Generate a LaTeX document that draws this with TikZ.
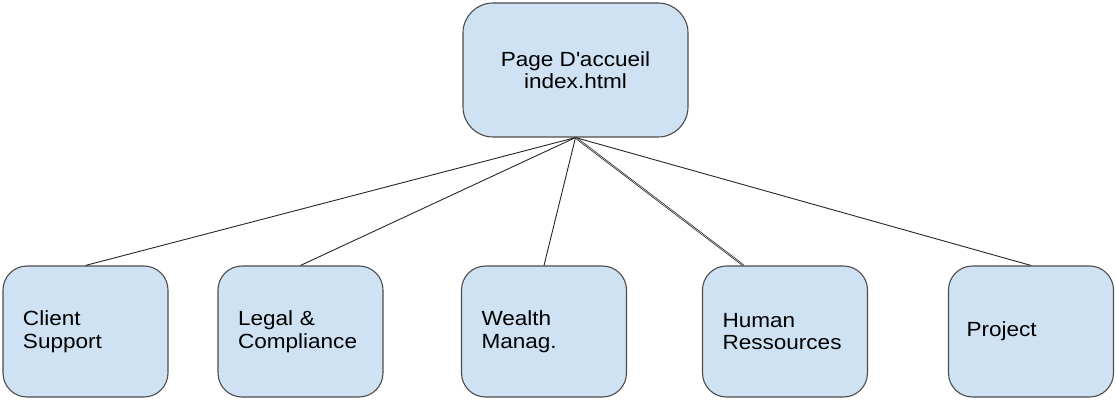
\documentclass[tikz,border=0pt]{standalone}
\usepackage{fontspec}
\setmainfont{Liberation Sans}[FakeStretch=1.1]
\usetikzlibrary{calc}
\begin{document}
\begin{tikzpicture}[x=1pt,y=-1pt,
  box/.style={draw=black!70, line width=1.1pt, fill=boxblue, rounded corners=24pt,
    font=\fontsize{20.5}{22.5}\selectfont, inner sep=0pt},
  leaf/.style={box, minimum width=165pt, minimum height=131pt, inner xsep=20pt,
    text width=125pt, align=left},
  link/.style={draw=black!85, line width=0.9pt}]
\definecolor{boxblue}{HTML}{CFE2F3}
\useasboundingbox (0,0) rectangle (1116,401);
\node[box, minimum width=225pt, minimum height=134pt, align=center, rounded corners=30pt] (home) at (575.5,70) {Page D\textquotesingle accueil\\index.html};
\node[leaf] (cs) at (85.5,331.5) {Client\\Support};
\node[leaf] (lc) at (300.5,331.5) {Legal \&\\Compliance};
\node[leaf] (wm) at (544,331.5) {Wealth\\Manag.};
\node[leaf] (hr) at (785,331.5) {Human\\Ressources};
\node[leaf, inner xsep=18pt, text width=129pt] (pj) at (1031,331.5) {Project};
\coordinate (hrtop) at ($(hr.north west)!0.25!(hr.north east)$);
\draw[link] (home.south) -- (cs.north);
\draw[link] (home.south) -- (lc.north);
\draw[link] (home.south) -- (wm.north);
\draw[link, line width=1.9pt] (home.south) -- (hrtop);
\draw[link, draw=white, line width=0.4pt] (home.south) -- (hrtop);
\draw[link] (home.south) -- (pj.north);
\end{tikzpicture}
\end{document}
